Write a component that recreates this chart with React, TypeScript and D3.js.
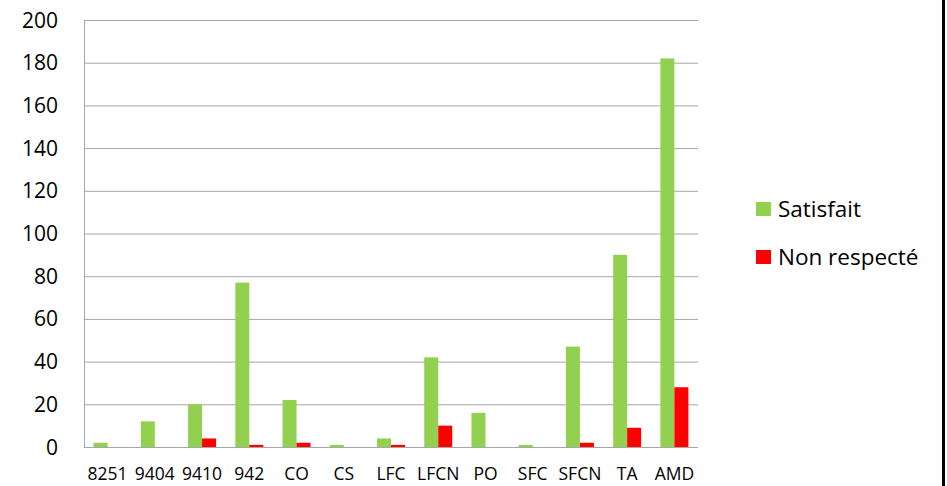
import React, { useEffect, useRef } from "react";
import * as d3 from "d3";

const categories = ["8251", "9404", "9410", "942", "CO", "CS", "LFC", "LFCN", "PO", "SFC", "SFCN", "TA", "AMD"];
const satisfait = [2, 12, 20, 77, 22, 1, 4, 42, 16, 1, 47, 90, 182];
const nonRespecte = [0, 0, 4, 1, 2, 0, 1, 10, 0, 0, 2, 9, 28];
const seriesNames = ["Satisfait", "Non respecté"];
const yTicks = [0, 20, 40, 60, 80, 100, 120, 140, 160, 180, 200];

const colors = ["#92D050", "#FF0000"];
const font = "'Open Sans', sans-serif";

const App: React.FC = () => {
  const svgRef = useRef<SVGSVGElement | null>(null);

  useEffect(() => {
    if (!svgRef.current) return;
    const width = 947;
    const height = 486;
    const svg = d3.select(svgRef.current);
    svg.selectAll("*").remove();
    svg.attr("width", width).attr("height", height);

    const left = 84, right = 698, top = 20, bottom = 447;

    const x = d3.scaleBand().domain(categories).range([left, right]).paddingInner(0).paddingOuter(0);
    const y = d3.scaleLinear().domain([0, 200]).range([bottom, top]);
    const barW = 14;

    // grid
    svg.append("g")
      .selectAll("line")
      .data(yTicks)
      .enter()
      .append("line")
      .attr("x1", left)
      .attr("x2", right)
      .attr("y1", d => y(d) + 0.5)
      .attr("y2", d => y(d) + 0.5)
      .attr("stroke", "#a6a6a6")
      .attr("stroke-width", 1);

    svg.append("line")
      .attr("x1", left + 0.5).attr("x2", left + 0.5)
      .attr("y1", top).attr("y2", bottom + 1)
      .attr("stroke", "#a6a6a6");

    // y labels
    svg.append("g")
      .selectAll("text")
      .data(yTicks)
      .enter()
      .append("text")
      .attr("x", 58)
      .attr("y", d => y(d))
      .attr("dy", "0.36em")
      .attr("text-anchor", "end")
      .attr("font-family", font)
      .attr("font-size", 21)
      .attr("fill", "#000")
      .text(d => d);

    // bars
    const series = [satisfait, nonRespecte];
    series.forEach((vals, si) => {
      svg.append("g")
        .selectAll("rect")
        .data(vals)
        .enter()
        .append("rect")
        .attr("x", (_, i) => x(categories[i])! + x.bandwidth() / 2 - barW + si * barW)
        .attr("y", d => y(d))
        .attr("width", barW)
        .attr("height", d => bottom - y(d))
        .attr("fill", colors[si]);
    });

    // x labels
    svg.append("g")
      .selectAll("text")
      .data(categories)
      .enter()
      .append("text")
      .attr("x", d => x(d)! + x.bandwidth() / 2)
      .attr("y", 480)
      .attr("text-anchor", "middle")
      .attr("font-family", font)
      .attr("font-size", 17.5)
      .attr("fill", "#000")
      .text(d => d);

    // legend
    const lg = svg.append("g");
    seriesNames.forEach((name, i) => {
      const cy = 209 + i * 48;
      lg.append("rect")
        .attr("x", 756).attr("y", cy - 7)
        .attr("width", 15).attr("height", 14)
        .attr("fill", colors[i]);
      lg.append("text")
        .attr("x", 778).attr("y", cy)
        .attr("dy", "0.36em")
        .attr("font-family", font)
        .attr("font-size", 22.5)
        .attr("fill", "#000")
        .text(name);
    });

    // right border
    svg.append("rect")
      .attr("x", 942).attr("y", 0)
      .attr("width", 3).attr("height", height)
      .attr("fill", "#000");
  }, []);

  return <svg ref={svgRef} style={{ position: "absolute", left: 0, top: 0 }}></svg>;
};

export default App;
